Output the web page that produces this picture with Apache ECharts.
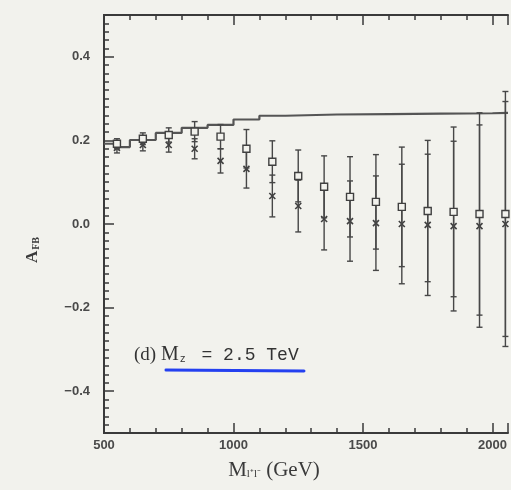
<!DOCTYPE html>
<html>
<head>
<meta charset="utf-8">
<script src="https://cdn.jsdelivr.net/npm/echarts@6/dist/echarts.min.js"></script>
<style>
  html, body { margin: 0; padding: 0; background: #f2f2ed; }
  #chart { width: 511px; height: 490px; }
</style>
</head>
<body>
<div id="chart"></div>
<script>
// Invariant-mass bin centres (GeV)
const massBins = [550, 650, 750, 850, 950, 1050, 1150, 1250, 1350, 1450, 1550, 1650, 1750, 1850, 1950, 2050];

// Forward-backward asymmetry, open-square sample, and its errors
const squareA   = [0.192, 0.204, 0.213, 0.221, 0.209, 0.180, 0.149, 0.115, 0.089, 0.065, 0.053, 0.041, 0.031, 0.029, 0.024, 0.024];
const squareErr = [0.012, 0.014, 0.017, 0.024, 0.029, 0.046, 0.050, 0.062, 0.074, 0.096, 0.113, 0.143, 0.169, 0.203, 0.242, 0.293];

// Forward-backward asymmetry, cross sample, and its errors
const crossA    = [0.182, 0.189, 0.189, 0.180, 0.151, 0.132, 0.067, 0.043, 0.012, 0.007, 0.002, 0.000, -0.002, -0.005, -0.005, 0.000];
const crossErr  = [0.012, 0.014, 0.017, 0.024, 0.029, 0.046, 0.050, 0.062, 0.074, 0.096, 0.113, 0.143, 0.169, 0.203, 0.242, 0.293];

// Standard-model expectation as a histogram: bin lower edges and values
const smEdges = [500, 550, 600, 700, 800, 900, 1000, 1100, 1200, 1400, 1600, 1800, 2000, 2060];
const smA     = [0.192, 0.184, 0.201, 0.218, 0.230, 0.237, 0.250, 0.259, 0.262, 0.263, 0.264, 0.265, 0.266, 0.266];

// Labelled ticks
const xTickValues = [500, 1000, 1500, 2000];
const yTickValues = [-0.4, -0.2, 0.0, 0.2, 0.4];

const INK = '#3a3a3a';
const PAPER = '#f2f2ed';
const tickFont = { fontFamily: 'Liberation Sans Narrow, Liberation Sans, sans-serif', fontSize: 13, fontWeight: 'bold', color: '#4a4a4a' };
const plotBox = { left: 104, top: 15, right: 0, bottom: 57 };

function errorBarSeries(name, centres, errs, marker) {
  return {
    type: 'custom',
    name: name,
    xAxisIndex: 0,
    yAxisIndex: 0,
    data: massBins.map((m, i) => [m, centres[i], centres[i] - errs[i], centres[i] + errs[i]]),
    encode: { x: 0, y: [1, 2, 3] },
    z: marker === 'square' ? 4 : 3,
    renderItem: function (params, api) {
      const x = api.value(0);
      const c = api.coord([x, api.value(1)]);
      const lo = api.coord([x, api.value(2)]);
      const hi = api.coord([x, api.value(3)]);
      const cap = 3;
      const line = { stroke: '#474747', lineWidth: 1.4, fill: null };
      const children = [
        { type: 'line', shape: { x1: c[0], y1: lo[1], x2: c[0], y2: hi[1] }, style: line },
        { type: 'line', shape: { x1: c[0] - cap, y1: lo[1], x2: c[0] + cap, y2: lo[1] }, style: line },
        { type: 'line', shape: { x1: c[0] - cap, y1: hi[1], x2: c[0] + cap, y2: hi[1] }, style: line }
      ];
      if (marker === 'square') {
        children.push({ type: 'rect', shape: { x: c[0] - 3.5, y: c[1] - 3.5, width: 7, height: 7 },
          style: { stroke: '#404040', fill: PAPER, lineWidth: 1.4 } });
      } else {
        const s = 3;
        children.push({ type: 'line', shape: { x1: c[0] - s, y1: c[1] - s, x2: c[0] + s, y2: c[1] + s }, style: { stroke: '#404040', lineWidth: 1.6 } });
        children.push({ type: 'line', shape: { x1: c[0] - s, y1: c[1] + s, x2: c[0] + s, y2: c[1] - s }, style: { stroke: '#404040', lineWidth: 1.6 } });
      }
      return { type: 'group', children: children };
    }
  };
}

const chart = echarts.init(document.getElementById('chart'), null, { renderer: 'canvas' });

const xCommon = {
  type: 'value', min: 500, max: 2060, interval: 500, gridIndex: 0,
  axisLine: { show: true, onZero: false, lineStyle: { color: INK, width: 2 } },
  axisTick: { show: true, inside: true, length: 10, lineStyle: { color: INK, width: 1.5 } },
  minorTick: { show: true, splitNumber: 5, length: 5, lineStyle: { color: INK, width: 1.5 } },
  splitLine: { show: false }
};

chart.setOption({
  backgroundColor: PAPER,
  animation: false,
  // grid 1 overlays grid 0 and only carries the fine ticks of the left frame
  grid: [Object.assign({}, plotBox), Object.assign({}, plotBox)],
  xAxis: [
    Object.assign({}, xCommon, {
      position: 'bottom',
      axisLabel: Object.assign({ margin: 6, formatter: v => (xTickValues.indexOf(v) >= 0 ? String(v) : '') }, tickFont)
    }),
    Object.assign({}, xCommon, { position: 'top', axisLabel: { show: false } }),
    { type: 'value', gridIndex: 1, min: 500, max: 2060, position: 'bottom',
      axisLine: { show: false, onZero: false }, axisTick: { show: false }, axisLabel: { show: false }, splitLine: { show: false } }
  ],
  yAxis: [
    {
      type: 'value', gridIndex: 0, min: -0.5, max: 0.5, interval: 0.1, position: 'left',
      axisLine: { show: true, onZero: false, lineStyle: { color: INK, width: 2 } },
      axisTick: { show: true, inside: true, length: 10, customValues: yTickValues, lineStyle: { color: INK, width: 1.5 } },
      axisLabel: Object.assign({ margin: 14, customValues: yTickValues,
        formatter: v => v.toFixed(1).replace('-', '\u2212') }, tickFont),
      splitLine: { show: false }
    },
    {
      type: 'value', gridIndex: 1, min: -0.5, max: 0.5, interval: 0.02, position: 'left',
      axisLine: { show: true, onZero: false, lineStyle: { color: INK, width: 2 } },
      axisTick: { show: true, inside: true, length: 5, lineStyle: { color: INK, width: 1.5 } },
      axisLabel: { show: false },
      splitLine: { show: false }
    }
  ],
  series: [
    {
      type: 'line', name: 'SM', step: 'end', xAxisIndex: 0, yAxisIndex: 0,
      data: smEdges.map((e, i) => [e, smA[i]]),
      showSymbol: false, symbol: 'none',
      lineStyle: { color: '#555', width: 2.2 },
      z: 2
    },
    errorBarSeries('cross', crossA, crossErr, 'cross'),
    errorBarSeries('square', squareA, squareErr, 'square'),
    { type: 'line', name: 'frame', xAxisIndex: 2, yAxisIndex: 1, data: [], silent: true }
  ],
  graphic: [
    {
      type: 'text', x: 33, y: 250, rotation: Math.PI / 2,
      style: {
        text: '{a|A}{s|FB}', align: 'center', verticalAlign: 'middle',
        rich: {
          a: { fontFamily: 'Liberation Serif, serif', fontSize: 17, fontWeight: 'bold', fill: '#3a3a3a' },
          s: { fontFamily: 'Liberation Serif, serif', fontSize: 10, fontWeight: 'bold', fill: '#3a3a3a', padding: [7, 0, 0, 1] }
        }
      }
    },
    {
      type: 'text', x: 274, y: 470,
      style: {
        text: '{m|M}{s|l\u207Al\u207B}{m| (GeV)}', align: 'center', verticalAlign: 'middle',
        rich: {
          m: { fontFamily: 'Liberation Serif, serif', fontSize: 21, fill: '#3a3a3a' },
          s: { fontFamily: 'Liberation Serif, serif', fontSize: 11, fill: '#3a3a3a', padding: [9, 0, 0, 0] }
        }
      }
    },
    {
      type: 'text', x: 134, y: 355,
      style: {
        text: '{d|(d) }{m|M}{s|z}{t| = 2.5 TeV}', align: 'left', verticalAlign: 'middle',
        rich: {
          d: { fontFamily: 'Liberation Serif, serif', fontSize: 19, fill: '#333' },
          m: { fontFamily: 'Liberation Serif, serif', fontSize: 20, fill: '#333' },
          s: { fontFamily: 'Liberation Mono, monospace', fontSize: 10, fill: '#333', padding: [9, 5, 0, 1] },
          t: { fontFamily: 'Liberation Mono, monospace', fontSize: 18, fill: '#333' }
        }
      }
    },
    {
      type: 'line', shape: { x1: 166, y1: 370, x2: 304, y2: 371 },
      style: { stroke: '#2440f0', lineWidth: 3, lineCap: 'round' }
    }
  ]
});
</script>
</body>
</html>
